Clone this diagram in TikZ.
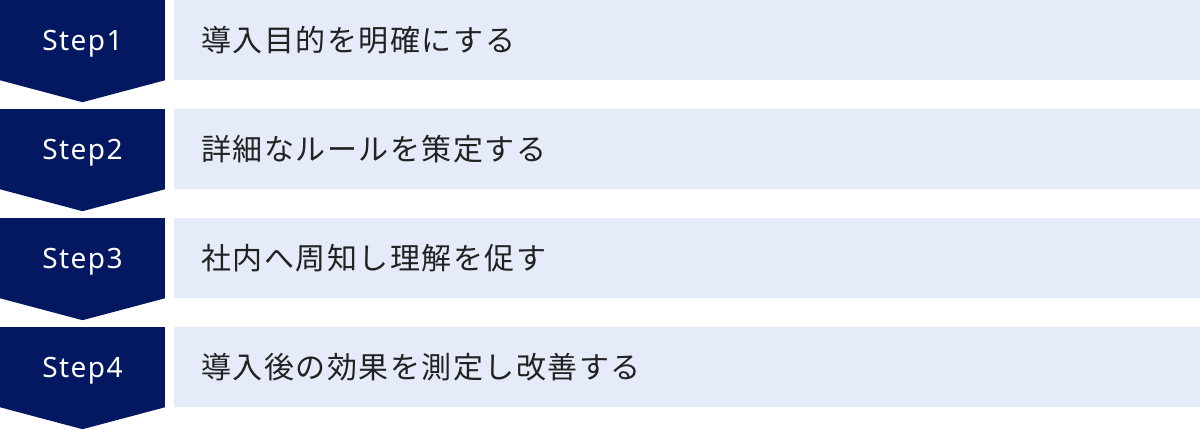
\documentclass[tikz,border=0pt]{standalone}
\usepackage{fontspec}
\usepackage{tikz}
\usetikzlibrary{positioning}
\newfontfamily\jpfont{Noto Sans CJK JP}[LetterSpace=5]
\newfontfamily\stepfont{Noto Sans}[LetterSpace=5]
\definecolor{stepnavy}{RGB}{3,24,96}
\definecolor{tasklight}{RGB}{229,235,249}
\definecolor{tasktext}{RGB}{34,34,34}

\tikzset{
    stepbox/.style={fill=stepnavy, text=white, minimum width=165pt, minimum height=80pt,
        inner sep=0pt, text height=20pt, text depth=0pt,
        font=\stepfont\fontsize{28pt}{32pt}\selectfont},
    taskbox/.style={fill=tasklight, text=tasktext, minimum height=80pt, inner ysep=0pt,
        inner xsep=27pt, text width=972pt, align=left,
        font=\jpfont\fontsize{30pt}{36pt}\selectfont},
}

\begin{document}
\begin{tikzpicture}[x=1pt, y=-1pt]
    \useasboundingbox[fill=white] (0,0) rectangle (1200,429);
    \foreach \i/\task in {1/導入目的を明確にする, 2/詳細なルールを策定する,
                          3/社内へ周知し理解を促す, 4/導入後の効果を測定し改善する} {
        \pgfmathsetmacro\rowy{(\i-1)*109+40}
        \node[stepbox] (step\i) at (82.5,\rowy) {Step\i};
        % chevron tip below the step label
        \fill[stepnavy] (step\i.south west) -- (step\i.south east)
            -- ([yshift=-22pt]step\i.south) -- cycle;
        \node[taskbox, right=9pt of step\i] (task\i) {\task};
    }
\end{tikzpicture}
\end{document}
